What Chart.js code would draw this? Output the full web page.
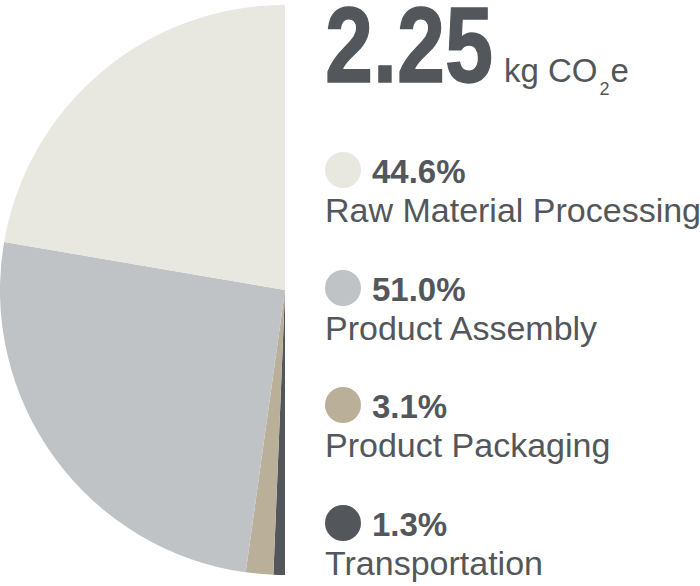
<!DOCTYPE html>
<html>
<head>
<meta charset="utf-8">
<script src="https://cdn.jsdelivr.net/npm/chart.js@4/dist/chart.umd.min.js"></script>
<style>
  body { margin: 0; background: #fff; font-family: "Liberation Sans", Arial, sans-serif; color: #53575b; }
  #wrap { position: relative; width: 700px; height: 586px; overflow: hidden; }
  #pieBox { position: absolute; left: 0; top: 5px; width: 285px; height: 570px; }
  .abs { position: absolute; white-space: nowrap; }
  #total { left: 325px; top: -9px; font-size: 108px; line-height: 108px; font-weight: bold;
           transform: scaleX(0.8); transform-origin: left top; -webkit-text-stroke: 1.5px #53575b; }
  #unit { left: 504px; top: 54px; font-size: 33px; line-height: 33px; }
  #unit sub { font-size: 18px; vertical-align: -13px; line-height: 0; margin: 0 1px 0 2px; }
  .dot { position: absolute; width: 36px; height: 36px; border-radius: 50%; }
  .pct { font-size: 33px; line-height: 33px; font-weight: bold; }
  .lbl { font-size: 34px; line-height: 34px; }
</style>
</head>
<body>
<div id="wrap">
  <div id="pieBox"><canvas id="pie"></canvas></div>
  <div class="abs" id="total"></div>
  <div class="abs" id="unit">kg CO<sub>2</sub>e</div>
  <div id="legend"></div>
</div>
<script>
// --- DONNÉES ---
const totalValue = "2.25";
const categories = ["Raw Material Processing", "Product Assembly", "Product Packaging", "Transportation"];
const shares = [44.6, 51.0, 3.1, 1.3];
const colors = ["#e8e7e0", "#bfc3c6", "#bab09a", "#53575b"];

document.getElementById("total").innerText = totalValue;

// --- LÉGENDE ---
const legendEl = document.getElementById("legend");
legendEl.innerHTML = categories.map((c, i) => {
    const cy = 170 + i * 117.7;
    return `
        <div class="dot" style="left:325px; top:${cy - 18}px; background:${colors[i]};"></div>
        <div class="abs pct" style="left:372px; top:${cy - 15}px;">${shares[i].toFixed(1)}%</div>
        <div class="abs lbl" style="left:325px; top:${cy + 23}px;">${c}</div>
    `;
}).join("");

// --- GRAPHIQUE ---
// demi-camembert à gauche : on part du bas et on tourne vers le haut, donc ordre inversé
new Chart(document.getElementById("pie"), {
    type: 'pie',
    data: {
        labels: categories.slice().reverse(),
        datasets: [{
            data: shares.slice().reverse(),
            backgroundColor: colors.slice().reverse(),
            borderWidth: 0
        }]
    },
    options: {
        responsive: true,
        maintainAspectRatio: false,
        animation: false,
        rotation: 180,
        circumference: 180,
        layout: { padding: 0 },
        plugins: {
            legend: { display: false },
            tooltip: { enabled: false }
        }
    }
});
</script>
</body>
</html>
